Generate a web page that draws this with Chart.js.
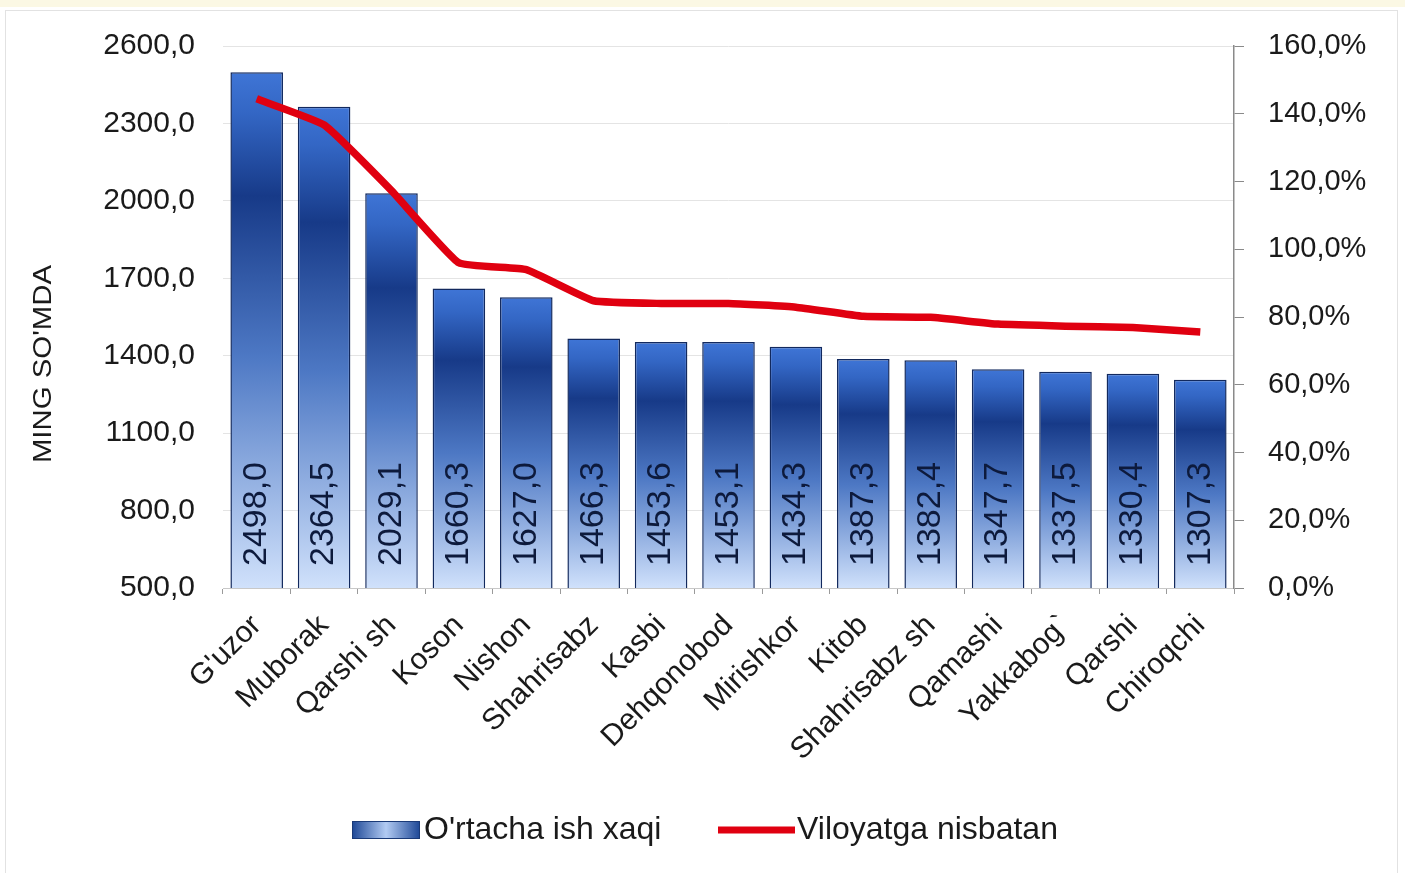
<!DOCTYPE html>
<html>
<head>
<meta charset="utf-8">
<script src="https://cdn.jsdelivr.net/npm/chart.js@4.4.1/dist/chart.umd.min.js"></script>
<style>
  html, body { margin: 0; padding: 0; background: #fff; }
  #wrap { width: 1405px; height: 873px; position: relative; }
</style>
</head>
<body>
<div id="wrap"><canvas id="c_hart" width="1405" height="873"></canvas></div>
<script>
// data
var districts = ["G'uzor", "Muborak", "Qarshi sh", "Koson", "Nishon", "Shahrisabz", "Kasbi", "Dehqonobod",
    "Mirishkor", "Kitob", "Shahrisabz sh", "Qamashi", "Yakkabog`", "Qarshi", "Chiroqchi"];
var wages = [2498.0, 2364.5, 2029.1, 1660.3, 1627.0, 1466.3, 1453.6, 1453.1, 1434.3, 1387.3, 1382.4, 1347.7, 1337.5, 1330.4, 1307.3];
var ratio = [144.4, 136.7, 117.3, 96.0, 94.0, 84.8, 84.0, 84.0, 82.9, 80.2, 79.9, 77.9, 77.3, 76.9, 75.6];
var leftTicks = [500, 800, 1100, 1400, 1700, 2000, 2300, 2600];
var rightTicks = [0, 20, 40, 60, 80, 100, 120, 140, 160];

var FONT = "'Liberation Sans', Arial, sans-serif";

function comma(v) {
    return v.toFixed(1).replace('.', ',');
}

function barFill(context) {
    var chart = context.chart;
    var area = chart.chartArea;
    if (!area || context.parsed == null) {
        return '#2a56a8';
    }
    var top = chart.scales.y.getPixelForValue(context.parsed.y);
    var g = chart.ctx.createLinearGradient(0, top, 0, area.bottom);
    g.addColorStop(0, '#3f75d6');
    g.addColorStop(0.08, '#3366c4');
    g.addColorStop(0.24, '#173a88');
    g.addColorStop(0.55, '#4d78c4');
    g.addColorStop(1, '#d0e1fb');
    return g;
}

// background + thin frame
var framePlugin = {
    id: 'frame',
    beforeDraw: function(chart) {
        var ctx = chart.ctx;
        ctx.save();
        ctx.fillStyle = '#ffffff';
        ctx.fillRect(0, 0, chart.width, chart.height);
        ctx.fillStyle = '#fbf8e4';
        ctx.fillRect(0, 0, chart.width, 7);
        ctx.strokeStyle = '#e2e2e2';
        ctx.lineWidth = 1;
        ctx.strokeRect(5.5, 10.5, 1392, 870);
        ctx.restore();
    }
};

// rotated value labels inside the bars + axis title
var valuePlugin = {
    id: 'values',
    afterDatasetsDraw: function(chart) {
        var ctx = chart.ctx;
        var meta = chart.getDatasetMeta(1);
        var bottom = chart.chartArea.bottom;
        ctx.save();
        ctx.fillStyle = '#0d1a3c';
        ctx.font = '34px ' + FONT;
        ctx.textAlign = 'left';
        ctx.textBaseline = 'middle';
        meta.data.forEach(function(bar, i) {
            ctx.save();
            ctx.translate(bar.x, bottom - 22);
            ctx.rotate(-Math.PI / 2);
            ctx.fillText(comma(wages[i]), 0, 0);
            ctx.restore();
        });

        // y title
        ctx.save();
        ctx.fillStyle = '#1a1a1a';
        ctx.font = '26px ' + FONT;
        ctx.textAlign = 'center';
        ctx.textBaseline = 'middle';
        ctx.translate(44, 364);
        ctx.rotate(-Math.PI / 2);
        ctx.scale(1.13, 1);
        ctx.fillText("MING SO'MDA", 0, 0);
        ctx.restore();
        ctx.restore();
    }
};

// legend at the bottom
var legendPlugin = {
    id: 'legendBottom',
    afterDraw: function(chart) {
        var ctx = chart.ctx;
        var y = 830;
        ctx.save();
        var g = ctx.createLinearGradient(352, 0, 420, 0);
        g.addColorStop(0, '#1d4796');
        g.addColorStop(0.5, '#b2cbf3');
        g.addColorStop(1, '#1d4796');
        ctx.fillStyle = g;
        ctx.fillRect(352, y - 9, 68, 18);
        ctx.strokeStyle = '#1a3a78';
        ctx.lineWidth = 1;
        ctx.strokeRect(352.5, y - 8.5, 67, 17);

        ctx.strokeStyle = '#e00010';
        ctx.lineWidth = 7;
        ctx.beginPath();
        ctx.moveTo(718, y);
        ctx.lineTo(795, y);
        ctx.stroke();

        ctx.fillStyle = '#1a1a1a';
        ctx.font = '32px ' + FONT;
        ctx.textAlign = 'left';
        ctx.textBaseline = 'middle';
        ctx.fillText("O'rtacha ish xaqi", 424, y);
        ctx.fillText('Viloyatga nisbatan', 797, y);
        ctx.restore();
    }
};

var c_hart = document.getElementById('c_hart');

new Chart(c_hart, {
    type: 'bar',
    data: {
        labels: districts,
        datasets: [{
                type: 'line',
                label: 'Viloyatga nisbatan',
                data: ratio,
                yAxisID: 'y1',
                borderColor: '#e00010',
                borderWidth: 7.5,
                tension: 0.12,
                pointRadius: 0,
                fill: false,
                order: 0
            },
            {
                type: 'bar',
                label: "O'rtacha ish xaqi",
                data: wages,
                yAxisID: 'y',
                backgroundColor: barFill,
                borderColor: '#12295e',
                borderWidth: 1.5,
                barPercentage: 0.78,
                categoryPercentage: 1.0,
                order: 1
            }
        ]
    },
    options: {
        responsive: false,
        animation: false,
        devicePixelRatio: 1,
        layout: {
            padding: { top: 45, left: 0, right: 0, bottom: 0 }
        },
        plugins: {
            legend: { display: false },
            tooltip: { enabled: false }
        },
        scales: {
            x: {
                offset: true,
                grid: {
                    offset: true,
                    drawOnChartArea: false,
                    color: '#9a9a9a',
                    tickLength: 6
                },
                border: { color: '#c8c8c8' },
                ticks: {
                    color: '#1a1a1a',
                    font: { family: FONT, size: 30 },
                    maxRotation: 45,
                    minRotation: 45,
                    autoSkip: false,
                    padding: 14
                },
                afterFit: function(scale) {
                    scale.height = 873 - 588;
                }
            },
            y: {
                position: 'left',
                min: 500,
                max: 2600,
                afterBuildTicks: function(scale) {
                    scale.ticks = leftTicks.map(function(v) { return { value: v }; });
                },
                grid: {
                    color: '#e4e4e4',
                    drawTicks: false
                },
                border: { display: false },
                ticks: {
                    color: '#1a1a1a',
                    font: { family: FONT, size: 30 },
                    padding: 28,
                    callback: function(v) { return comma(v); }
                },
                afterFit: function(scale) {
                    scale.width = 223;
                }
            },
            y1: {
                position: 'right',
                min: 0,
                max: 160,
                afterBuildTicks: function(scale) {
                    scale.ticks = rightTicks.map(function(v) { return { value: v }; });
                },
                grid: {
                    drawOnChartArea: false,
                    color: '#8a8a8a',
                    tickLength: 10
                },
                border: { color: '#8a8a8a', width: 1.5 },
                ticks: {
                    color: '#1a1a1a',
                    font: { family: FONT, size: 29 },
                    padding: 24,
                    callback: function(v) { return comma(v) + '%'; }
                },
                afterFit: function(scale) {
                    scale.width = 1405 - 1234;
                }
            }
        }
    },
    plugins: [framePlugin, valuePlugin, legendPlugin]
});
</script>
</body>
</html>
